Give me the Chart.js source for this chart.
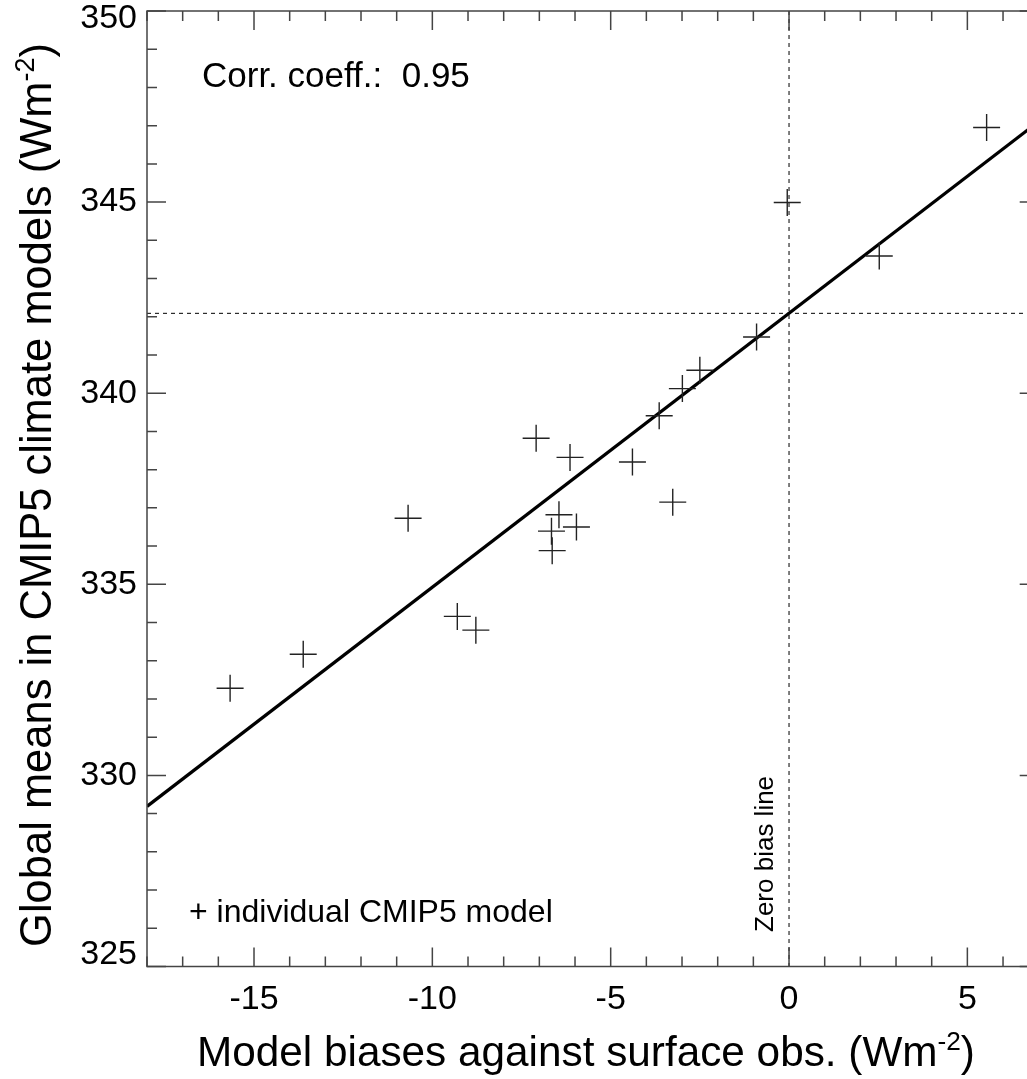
<!DOCTYPE html>
<html>
<head>
<meta charset="utf-8">
<script src="https://cdn.jsdelivr.net/npm/chart.js"></script>
<style>
  html, body { margin: 0; padding: 0; background: #fff; overflow: hidden; }
  #wrap { width: 1050px; height: 1079px; }
</style>
</head>
<body>
<div id="wrap"><canvas id="chartContainer" width="1050" height="1079"></canvas></div>
<script>
// model bias vs global mean, one entry per CMIP5 model
var biasX = [-15.67, -13.62, -10.68, -9.30, -8.78, -7.09, -6.14, -4.39, -3.64, -2.99,
             -3.26, -6.45, -5.96, -6.66, -6.64, -2.50, -0.91, -0.05, 2.53, 5.54];
var meanY = [332.28, 333.17, 336.73, 334.16, 333.80, 338.82, 338.32, 338.20, 339.41, 340.12,
             337.15, 336.82, 336.50, 336.39, 335.88, 340.60, 341.47, 344.99, 343.59, 346.95];

// regression line end points
var fitX = [-18, 7];
var fitY = [329.19, 347.11];

// reference levels
var zeroBias = 0;
var obsMean = 342.09;

var xTicks = [-15, -10, -5, 0, 5];
var yTicks = [325, 330, 335, 340, 345, 350];

var FONT = '"Liberation Sans", Arial, Helvetica, sans-serif';

function supWidth(ctx, parts, size) {
  var w = 0;
  parts.forEach(function (p) {
    ctx.font = (p[1] ? size * 0.62 : size) + 'px ' + FONT;
    w += ctx.measureText(p[0]).width;
  });
  return w;
}
function drawSup(ctx, parts, size, x, y) {
  parts.forEach(function (p) {
    ctx.font = (p[1] ? size * 0.62 : size) + 'px ' + FONT;
    ctx.fillText(p[0], x, p[1] ? y - size * 0.38 : y);
    x += ctx.measureText(p[0]).width;
  });
}

var frame = {
  id: 'frame',
  beforeDraw: function (chart) {
    // keep the end labels of the y axis inside the frame
    var items = chart.scales.y.getLabelItems();
    if (items.length && !items._shifted) {
      items[0].options.translation[1] -= 12;
      items[items.length - 1].options.translation[1] += 8;
      items._shifted = true;
    }
  },
  beforeDatasetsDraw: function (chart) {
    var ctx = chart.ctx, a = chart.chartArea;
    var xs = chart.scales.x, ys = chart.scales.y;
    ctx.save();
    ctx.strokeStyle = '#000';
    ctx.lineWidth = 1;
    ctx.setLineDash([4, 4]);
    var px = xs.getPixelForValue(zeroBias);
    ctx.beginPath(); ctx.moveTo(px, a.top); ctx.lineTo(px, a.bottom); ctx.stroke();
    var py = ys.getPixelForValue(obsMean);
    ctx.beginPath(); ctx.moveTo(a.left, py); ctx.lineTo(a.right, py); ctx.stroke();
    ctx.restore();
  },
  afterDraw: function (chart) {
    var ctx = chart.ctx, a = chart.chartArea;
    var xs = chart.scales.x, ys = chart.scales.y;
    ctx.save();
    ctx.strokeStyle = '#444';
    ctx.lineWidth = 1.5;
    ctx.strokeRect(a.left, a.top, a.right - a.left, a.bottom - a.top);
    ctx.beginPath();
    for (var v = -18; v <= 7; v++) {
      var len = (v % 5 === 0) ? 19 : 10;
      var p = xs.getPixelForValue(v);
      ctx.moveTo(p, a.bottom); ctx.lineTo(p, a.bottom - len);
      ctx.moveTo(p, a.top); ctx.lineTo(p, a.top + len);
    }
    for (var w = 325; w <= 350; w++) {
      var l2 = (w % 5 === 0) ? 19 : 10;
      var q = ys.getPixelForValue(w);
      ctx.moveTo(a.left, q); ctx.lineTo(a.left + l2, q);
      ctx.moveTo(a.right, q); ctx.lineTo(a.right - l2, q);
    }
    ctx.stroke();

    ctx.fillStyle = '#000';
    ctx.textBaseline = 'alphabetic';
    ctx.textAlign = 'left';
    ctx.font = '35px ' + FONT;
    ctx.fillText('Corr. coeff.:  0.95', 202, 87);
    ctx.font = '32px ' + FONT;
    ctx.fillText('+ individual CMIP5 model', 189, 922);

    ctx.save();
    ctx.translate(773, 932);
    ctx.rotate(-Math.PI / 2);
    ctx.font = '26px ' + FONT;
    ctx.fillText('Zero bias line', 0, 0);
    ctx.restore();

    // axis titles with superscript unit
    var xt = [['Model biases against surface obs. (Wm', false], ['-2', true], [')', false]];
    var xw = supWidth(ctx, xt, 42.3);
    drawSup(ctx, xt, 42.3, 586 - xw / 2, 1066);

    var yt = [['Global means in CMIP5 climate models (Wm', false], ['-2', true], [')', false]];
    var yw = supWidth(ctx, yt, 43.5);
    ctx.save();
    ctx.translate(51, 495);
    ctx.rotate(-Math.PI / 2);
    drawSup(ctx, yt, 43.5, -yw / 2, 0);
    ctx.restore();
    ctx.restore();
  }
};

var pts = biasX.map(function (x, i) { return { x: x, y: meanY[i] }; });
var fit = fitX.map(function (x, i) { return { x: x, y: fitY[i] }; });

new Chart(document.getElementById('chartContainer').getContext('2d'), {
  type: 'scatter',
  data: {
    datasets: [{
      label: 'CMIP5 models',
      data: pts,
      pointStyle: 'cross',
      pointRadius: 13.5,
      pointHoverRadius: 13.5,
      borderColor: '#222',
      borderWidth: 1.4,
      backgroundColor: '#222'
    }, {
      label: 'fit',
      type: 'line',
      data: fit,
      borderColor: '#000',
      borderWidth: 3.2,
      pointRadius: 0,
      fill: false
    }]
  },
  options: {
    responsive: false,
    animation: false,
    devicePixelRatio: 1,
    layout: { autoPadding: false, padding: { top: 11, right: 11.3, left: 0, bottom: 0 } },
    plugins: { legend: { display: false }, tooltip: { enabled: false } },
    scales: {
      x: {
        type: 'linear', min: -18, max: 7,
        grid: { display: false, drawTicks: false },
        border: { display: false },
        afterBuildTicks: function (s) { s.ticks = xTicks.map(function (v) { return { value: v }; }); },
        afterFit: function (s) { s.height = 112.5; s.paddingLeft = 0; s.paddingRight = 0; },
        ticks: { color: '#000', padding: 13, font: { family: FONT, size: 34 } }
      },
      y: {
        type: 'linear', min: 325, max: 350,
        grid: { display: false, drawTicks: false },
        border: { display: false },
        afterBuildTicks: function (s) { s.ticks = yTicks.map(function (v) { return { value: v }; }); },
        afterFit: function (s) { s.width = 147; s.paddingTop = 0; s.paddingBottom = 0; },
        ticks: { color: '#000', padding: 10, font: { family: FONT, size: 34 } }
      }
    }
  },
  plugins: [frame]
});
</script>
</body>
</html>
